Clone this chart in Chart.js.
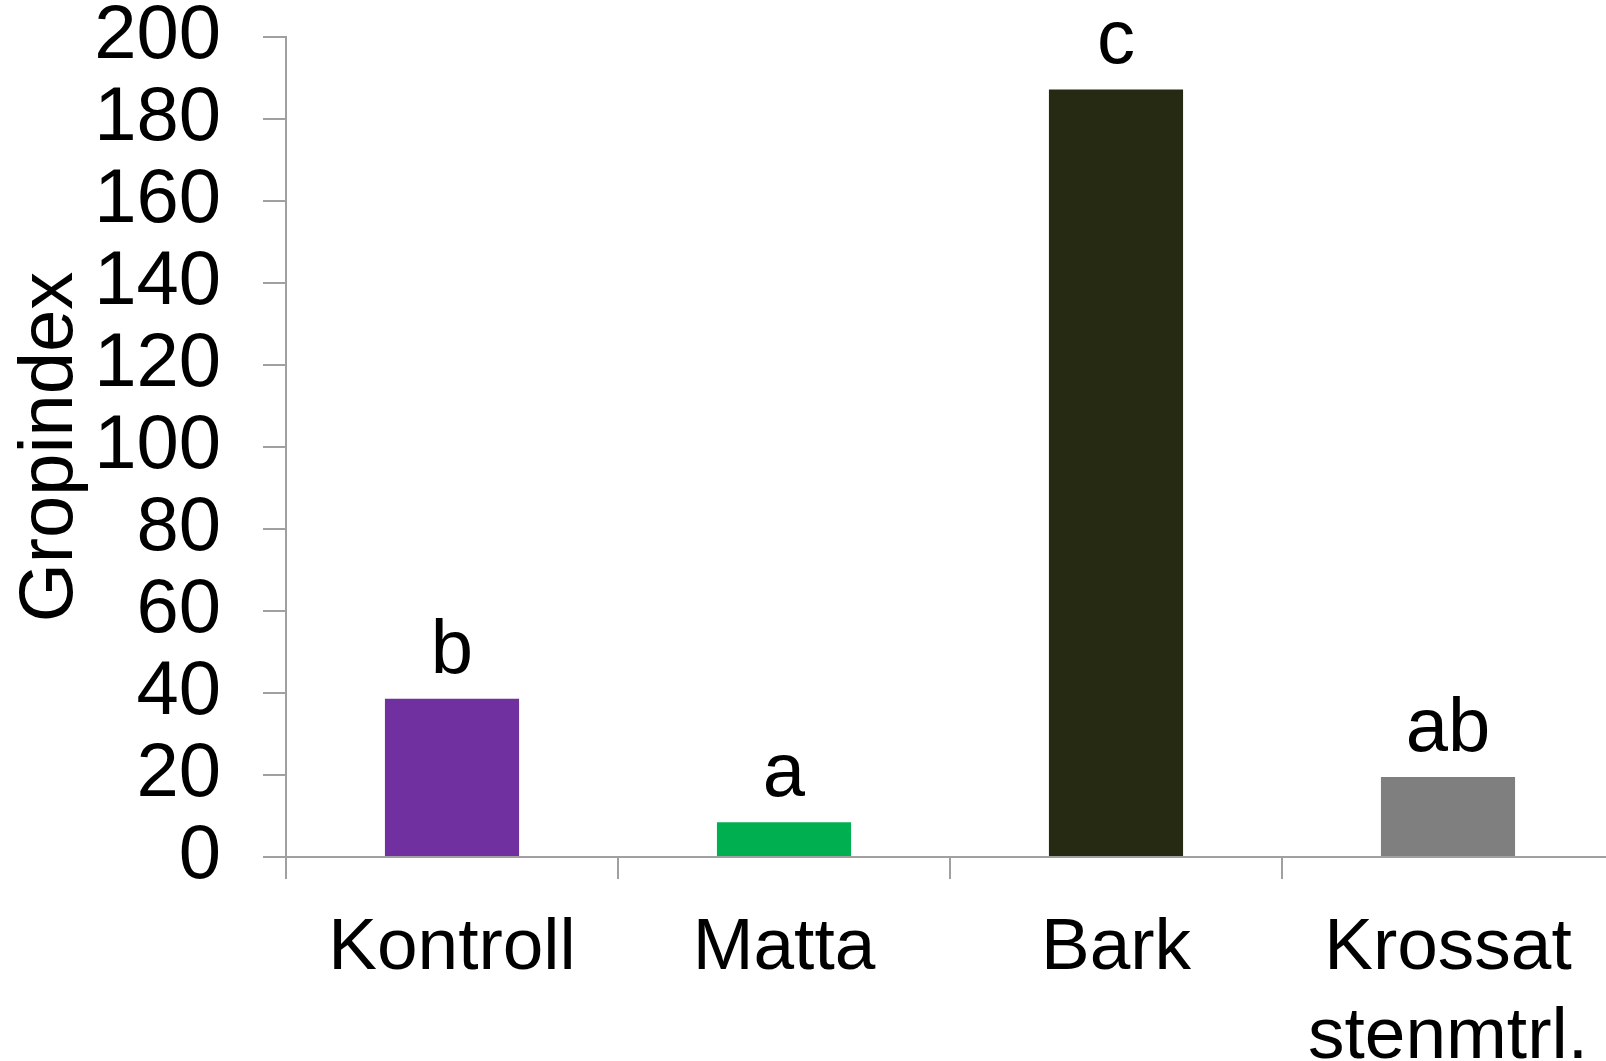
<!DOCTYPE html>
<html>
<head>
<meta charset="utf-8">
<script src="https://cdn.jsdelivr.net/npm/chart.js@4/dist/chart.umd.min.js"></script>
<style>
  html, body { margin: 0; padding: 0; overflow: hidden; background: #fff; }
  #wrap { position: absolute; left: 0; top: 0; width: 1620px; height: 1061px; }
</style>
</head>
<body>
<div id="wrap"><canvas id="c" width="1620" height="1061"></canvas></div>
<script>
const categories = ['Kontroll', 'Matta', 'Bark', ['Krossat', 'stenmtrl.']];
const values = [38.6, 8.5, 187.2, 19.5];
const letters = ['b', 'a', 'c', 'ab'];
const barColors = ['#7030A0', '#00B050', '#262A13', '#7F7F7F'];
const yTicks = [0, 20, 40, 60, 80, 100, 120, 140, 160, 180, 200];

const FONT = "'Liberation Sans', Arial, sans-serif";
const AXIS = '#A0A0A0';

const letterPlugin = {
  id: 'letters',
  afterDatasetsDraw(chart) {
    const ctx = chart.ctx;
    const meta = chart.getDatasetMeta(0);
    ctx.save();
    ctx.fillStyle = '#000';
    ctx.font = '76px ' + FONT;
    ctx.textAlign = 'center';
    ctx.textBaseline = 'alphabetic';
    meta.data.forEach((bar, i) => {
      ctx.fillText(letters[i], bar.x, bar.y - 26);
    });
    ctx.restore();
  }
};

new Chart(document.getElementById('c'), {
  type: 'bar',
  data: {
    labels: categories,
    datasets: [{
      data: values,
      backgroundColor: barColors,
      borderWidth: 0,
      barPercentage: 0.404,
      categoryPercentage: 1.0
    }]
  },
  options: {
    responsive: false,
    animation: false,
    devicePixelRatio: 1,
    layout: { padding: { left: 0, top: 37, right: 6, bottom: 0 } },
    plugins: { legend: { display: false }, tooltip: { enabled: false } },
    scales: {
      x: {
        z: 1,
        offset: true,
        grid: {
          display: true, offset: true, drawOnChartArea: false,
          tickLength: 22, color: AXIS, lineWidth: 2
        },
        border: { display: true, color: AXIS, width: 2 },
        ticks: {
          color: '#000', font: { family: FONT, size: 73, lineHeight: 1.21 },
          padding: 26, maxRotation: 0, autoSkip: false
        },
        afterFit(scale) {
          scale.height = 204;
          scale.paddingLeft = 0; scale.paddingRight = 0;
        }
      },
      y: {
        min: 0, max: 200,
        afterBuildTicks(scale) { scale.ticks = yTicks.map(v => ({ value: v })); },
        grid: {
          display: true, drawOnChartArea: false,
          tickLength: 23, color: AXIS, lineWidth: 2
        },
        border: { display: true, color: AXIS, width: 2 },
        ticks: {
          color: '#000', font: { family: FONT, size: 76, lineHeight: 1.0 },
          padding: 42
        },
        title: {
          display: true, text: 'Gropindex', color: '#000',
          font: { family: FONT, size: 76, lineHeight: 1.1 },
          padding: { top: 9, bottom: 0 }
        },
        afterFit(scale) {
          scale.width = 286;
          scale.paddingTop = 0; scale.paddingBottom = 0;
        }
      }
    }
  },
  plugins: [letterPlugin]
});
</script>
</body>
</html>
